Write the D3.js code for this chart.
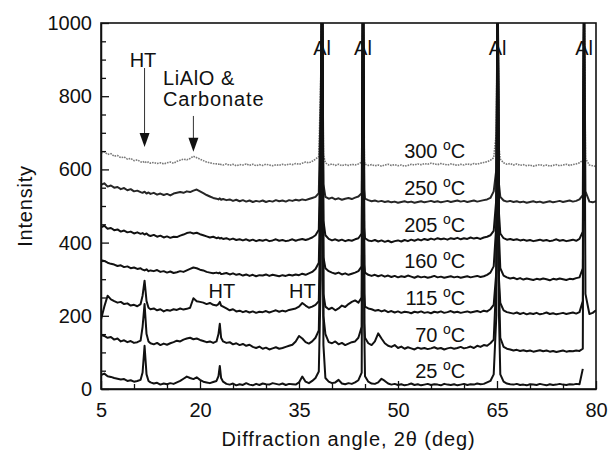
<!DOCTYPE html>
<html>
<head>
<meta charset="utf-8">
<script src="https://cdn.jsdelivr.net/npm/d3@7"></script>
<style>
  body { margin: 0; background: #fff; }
  text { font-family: "Liberation Sans", Arial, sans-serif; fill: #111; }
</style>
</head>
<body>
<div id="chart"></div>
<script>
// 2theta grid shared by every trace (denser around the peaks)
const angle = [
  5, 5.5, 6, 6.5, 7, 7.5, 8, 8.5, 9, 9.5, 10, 10.5, 11,
  11.3, 11.6, 11.9, 12.2,
  12.5, 13, 13.5, 14, 14.5, 15, 15.5, 16, 16.5, 17, 17.5, 18, 18.5, 19, 19.5, 20, 20.5, 21, 21.5, 22, 22.5,
  22.8, 23, 23.2,
  23.5, 24, 24.5, 25, 25.5, 26, 26.5, 27, 27.5, 28, 28.5, 29, 29.5, 30, 30.5, 31, 31.5, 32, 32.5, 33, 33.5, 34, 34.5, 35, 35.5, 36, 36.5, 37, 37.5, 38,
  38.3, 38.5, 38.7,
  39, 39.5, 40, 40.5, 41, 41.5, 42, 42.5, 43, 43.5, 44, 44.5,
  44.7, 44.9,
  45, 45.5, 46, 46.5, 47, 47.5, 48, 48.5, 49, 49.5, 50, 50.5, 51, 51.5, 52, 52.5, 53, 53.5, 54, 54.5,
  55, 55.5, 56, 56.5, 57, 57.5, 58, 58.5, 59, 59.5, 60, 60.5, 61, 61.5, 62, 62.5, 63, 63.5, 64, 64.5,
  64.9, 65.1, 65.3,
  65.5, 66, 66.5, 67, 67.5, 68, 68.5, 69, 69.5, 70, 70.5, 71, 71.5, 72, 72.5, 73, 73.5, 74, 74.5, 75, 75.5, 76, 76.5, 77, 77.5, 78,
  78.2, 78.4,
  79, 79.5, 80
];

// intensities (the stacked offsets are part of the values)
const t25 = [
  38, 42, 35, 33, 30, 28, 26, 27, 22, 24, 20, 22, 25,
  45, 118, 40, 22,
  18, 15, 17, 12, 15, 13, 16, 14, 18, 22, 28, 34, 30, 27, 32, 25, 20, 18, 16, 19, 22,
  35, 63, 30,
  20, 14, 12, 15, 10, 13, 11, 16, 12, 10, 14, 11, 15, 13, 12, 16, 14, 12, 15, 11, 14, 13, 12, 18, 34, 20, 16, 22, 30, 48,
  300, 1150, 120,
  30, 20, 16, 18, 25, 15, 13, 16, 14, 18, 24, 45,
  1150, 150,
  35, 20, 15, 14, 18, 28, 22, 15, 12, 14, 11, 13, 10, 12, 15, 11, 13, 10, 12, 14,
  11, 13, 12, 10, 14, 12, 11, 13, 10, 12, 14, 11, 13, 12, 15, 13, 14, 18, 22, 40,
  200, 1150, 200,
  40, 20, 15, 13, 12, 14, 11, 12, 10, 13, 12, 11, 14, 12, 10, 13, 11, 12, 14, 12, 11, 13, 12, 14, 13, 55,
  null, null,
  null, null, null
];
const t70 = [
  148, 145, 140, 142, 135, 138, 130, 133, 128, 131, 126, 128, 132,
  170, 232, 150, 130,
  125, 122, 126, 120, 124, 121, 125, 128, 132, 130, 135, 138, 140, 136, 138, 134, 131, 128, 130, 126, 130,
  150, 178, 140,
  130, 126, 128, 122, 125, 120, 123, 118, 121, 115, 112, 116, 110, 113, 108, 111, 114, 110, 112, 115, 118, 121, 130, 145, 138, 128, 124, 130, 140, 160,
  450, 1150, 200,
  150, 128, 125, 130, 122, 126, 120, 124, 128, 130, 140, 170,
  1150, 180,
  140, 125, 120, 130, 152, 138, 125, 118, 115, 120, 112, 116, 110, 114, 111, 108, 113, 110, 112, 109,
  111, 114, 110, 112, 108, 111, 113, 110, 112, 115, 111, 113, 116, 112, 118, 115, 120, 118, 125, 135,
  300, 1150, 280,
  140, 115, 110, 108, 105, 107, 104, 106, 103, 105, 102, 104, 106, 103, 105, 102, 104, 101, 103, 105, 102, 104, 103, 105, 104, 110,
  1150, null,
  null, null, null
];
const t115 = [
  190, 225, 255, 245, 240, 236, 238, 232, 234, 228, 230, 226, 232,
  255, 296, 240, 222,
  218, 220, 215, 218, 212, 216, 214, 218, 216, 220, 217, 219, 222, 248, 240, 238, 236, 232, 235, 230, 228,
  232, 238, 228,
  225, 220, 215, 218, 212, 214, 210, 213, 209, 212, 208, 211, 210, 213, 209, 212, 215, 211, 214, 212, 216, 218, 220, 225, 235, 228, 222, 225, 230, 240,
  500, 1150, 260,
  225, 218, 222, 215, 220, 228, 224, 232, 238, 242, 236, 250,
  1150, 260,
  225, 220, 218, 214, 216, 212, 215, 210, 213, 209, 212, 208, 211, 210, 207, 211, 209, 212, 208, 210,
  207, 211, 209, 212, 208, 210, 213, 209, 211, 208, 210, 212, 209, 211, 213, 210, 214, 212, 218, 230,
  320, 1150, 300,
  235, 215, 210, 208, 206, 209, 205, 208, 204, 207, 205, 208, 204, 206, 209, 205, 207, 204, 206, 208, 205, 207, 209, 206, 210, 240,
  1150, 260,
  205, 208, 215
];
const t160 = [
  352, 350, 345, 342, 340, 336, 338, 333, 335, 330, 332, 328, 330,
  326, 324, 327, 322,
  324, 322, 325, 320, 322, 318, 321, 317, 319, 322, 320, 324, 328, 332, 330, 326, 324, 320, 318, 316, 318,
  316, 318, 314,
  315, 317, 313, 316, 312, 314, 310, 313, 309, 312, 308, 311, 310, 313, 309, 312, 310, 308, 311, 309, 312, 310, 313, 311, 315, 312, 316, 320, 328, 345,
  600, 1150, 360,
  330, 322, 318, 315, 318, 313, 316, 312, 315, 318, 322, 335,
  1150, 340,
  318, 312, 309, 312, 308, 311, 307, 310, 306, 309, 305, 308, 306, 310, 307, 304, 308, 305, 307, 304,
  306, 309, 305, 307, 304, 306, 308, 305, 307, 304, 306, 308, 305, 307, 309, 306, 308, 312, 318, 335,
  450, 1150, 420,
  330, 310, 305, 302, 304, 300, 303, 299, 302, 300, 298, 301, 299, 302, 300, 297, 301, 299, 302, 300, 298, 301, 300, 303, 305, 330,
  1150, null,
  null, null, null
];
const t205 = [
  442, 446, 438, 440, 434, 436, 430, 433, 428, 430, 425, 428, 424,
  426, 422, 425, 420,
  418, 421, 416, 419, 414, 417, 413, 416, 415, 419, 422, 426, 428, 425, 427, 423, 420, 417, 414, 416, 412,
  414, 411, 413,
  410, 412, 408, 411, 407, 409, 406, 409, 405, 408, 404, 407, 405, 408, 404, 406, 409, 405, 407, 404, 406, 409, 405, 408, 410, 407, 410, 414, 420, 435,
  700, 1150, 460,
  420, 410, 406, 409, 405, 408, 404, 407, 405, 409, 412, 425,
  1150, 440,
  412, 406, 404, 407, 403, 406, 402, 405, 401, 404, 406, 403, 407, 404, 408, 405, 409, 406, 410, 407,
  411, 408, 412, 409, 411, 408, 412, 410, 413, 409, 412, 410, 414, 411, 413, 410, 414, 416, 420, 432,
  520, 1150, 480,
  425, 412, 408, 410, 407, 409, 406, 408, 405, 407, 404, 406, 408, 405, 407, 404, 406, 409, 405, 407, 404, 406, 408, 405, 410, 430,
  1150, null,
  null, null, null
];
const t250 = [
  558, 562, 553, 556, 550, 552, 546, 549, 543, 546, 540, 542, 538,
  536, 539, 534, 537,
  533, 536, 531, 534, 530, 533, 529, 534, 536, 538, 536, 540, 538, 542, 545, 540, 535, 530, 526, 522, 520,
  518, 521, 517,
  519, 516, 518, 514, 517, 513, 516, 512, 515, 511, 514, 512, 515, 511, 514, 512, 516, 513, 515, 512, 516, 514, 517, 515, 518, 516, 519, 522, 525, 535,
  800, 1150, 560,
  525, 520, 523, 518, 521, 517, 520, 522, 519, 523, 526, 535,
  1150, 545,
  520, 516, 513, 515, 512, 514, 511, 513, 510, 512, 509, 511, 513, 510, 512, 509, 511, 513, 510, 512,
  514, 511, 513, 510, 512, 514, 511, 513, 515, 512, 514, 511, 513, 515, 512, 514, 516, 518, 522, 540,
  600, 1150, 560,
  525, 515, 512, 514, 511, 513, 510, 512, 509, 511, 513, 510, 512, 509, 511, 513, 510, 512, 514, 511, 513, 515, 512, 514, 518, 530,
  1150, 540,
  512, 510, 513
];
const t300 = [
  645, 648, 641, 643, 636, 638, 632, 634, 628, 630, 624, 626, 621,
  619, 622, 618, 620,
  617, 619, 616, 618, 615, 618, 620, 617, 622, 625, 628, 626, 630, 636, 632, 628, 624, 620, 618, 616, 615,
  614, 616, 613,
  612, 615, 611, 614, 610, 613, 612, 615, 611, 614, 610, 613, 611, 614, 612, 610, 613, 611, 614, 612, 615, 613, 616, 614, 617, 620, 618, 622, 628, 635,
  850, 1150, 640,
  618, 612, 615, 611, 614, 610, 613, 611, 614, 612, 615, 620,
  1150, 625,
  614, 611, 613, 610, 612, 609, 612, 614, 611, 613, 610, 612, 609, 611, 614, 612, 615, 613, 616, 614,
  617, 615, 613, 616, 614, 612, 615, 613, 611, 614, 612, 615, 613, 616, 614, 617, 619, 621, 625, 632,
  700, 1150, 660,
  628, 618, 614, 616, 612, 615, 611, 613, 610, 612, 609, 611, 613, 610, 612, 609, 611, 613, 610, 612, 614, 611, 613, 615, 618, 625,
  1150, 630,
  612, 610, 608
];

const temps = ['300', '250', '205', '160', '115', '70', '25'];
const traces = [t300, t250, t205, t160, t115, t70, t25];
const tempLabelY = [631, 530, 429, 331, 230, 128, 30];   // intensity level of each label baseline
const xTicks = [5, 20, 35, 50, 65, 80];
const yTicks = [0, 200, 400, 600, 800, 1000];
const alPeaks = [38.5, 44.7, 65.1, 78.2];

const width = 610, height = 450;
const margin = { top: 23, right: 14, bottom: 61, left: 101 };

const svg = d3.select('#chart').append('svg')
  .attr('width', width)
  .attr('height', height);

const x = d3.scaleLinear().domain([5, 80]).range([margin.left, width - margin.right]);
const y = d3.scaleLinear().domain([0, 1000]).range([height - margin.bottom, margin.top]);

svg.append('clipPath').attr('id', 'plot')
  .append('rect')
  .attr('x', x(5)).attr('y', y(1000))
  .attr('width', x(80) - x(5)).attr('height', y(0) - y(1000));

// traces
const line = d3.line()
  .defined(d => d[1] != null)
  .x(d => x(d[0]))
  .y(d => y(d[1]));

const g = svg.append('g').attr('clip-path', 'url(#plot)');
traces.forEach((vals, i) => {
  const pts = angle.map((a, j) => [a, vals[j]]);
  const grey = temps[i] === '300';
  g.append('path')
    .datum(pts)
    .attr('fill', 'none')
    .attr('stroke', grey ? '#7a7a7a' : (temps[i] === '250' ? '#262626' : '#111'))
    .attr('stroke-width', grey ? 1.6 : 2)
    .attr('stroke-dasharray', grey ? '1.6,1' : null)
    .attr('stroke-linejoin', 'round')
    .attr('d', line);
});

// axes, ticks pointing inward
const bottom = svg.append('g').attr('transform', `translate(0,${y(0)})`);
bottom.call(d3.axisBottom(x).tickValues(d3.range(5, 81, 5)).tickFormat('').tickSizeInner(-5).tickSizeOuter(0));
bottom.call(g2 => g2.selectAll('.tick').filter(d => xTicks.includes(d)).select('line').attr('y2', -8));
svg.append('g').attr('transform', `translate(0,${y(0)})`)
  .call(d3.axisBottom(x).tickValues(xTicks).tickSize(0).tickPadding(14))
  .call(a => a.select('.domain').remove())
  .selectAll('text')
  .style('font-size', '20px')
  .style('font-family', '"Liberation Sans", Arial, sans-serif')
  .attr('fill', '#111');

const left = svg.append('g').attr('transform', `translate(${x(5)},0)`);
left.call(d3.axisLeft(y).tickValues(d3.range(0, 1001, 50)).tickFormat('').tickSizeInner(-5).tickSizeOuter(0));
left.call(g2 => g2.selectAll('.tick').filter(d => yTicks.includes(d)).select('line').attr('x2', 8));
svg.append('g').attr('transform', `translate(${x(5)},0)`)
  .call(d3.axisLeft(y).tickValues(yTicks).tickFormat(d3.format('d')).tickSize(0).tickPadding(9))
  .call(a => a.select('.domain').remove())
  .selectAll('text')
  .style('font-size', '20px')
  .style('font-family', '"Liberation Sans", Arial, sans-serif')
  .attr('fill', '#111');

svg.selectAll('.domain').attr('stroke', '#111').attr('stroke-width', 1.5);
svg.selectAll('.tick line').attr('stroke', '#111').attr('stroke-width', 1.3);

svg.append('rect')
  .attr('x', x(5)).attr('y', y(1000))
  .attr('width', x(80) - x(5)).attr('height', y(0) - y(1000))
  .attr('fill', 'none').attr('stroke', '#111').attr('stroke-width', 1.6);

// axis titles
svg.append('text')
  .attr('x', (x(5) + x(80)) / 2).attr('y', 446)
  .attr('text-anchor', 'middle')
  .style('font-size', '20px').style('letter-spacing', '0.9px')
  .text('Diffraction angle, 2θ (deg)');

svg.append('text')
  .attr('transform', `translate(32,${(y(0) + y(1000)) / 2}) rotate(-90)`)
  .attr('text-anchor', 'middle')
  .style('font-size', '20px').style('letter-spacing', '0.8px')
  .text('Intensity');

// temperature labels
temps.forEach((t, i) => {
  const lbl = svg.append('text')
    .attr('x', x(60.2)).attr('y', y(tempLabelY[i]))
    .attr('text-anchor', 'end')
    .style('font-size', '20px');
  lbl.append('tspan').text(t + ' ');
  lbl.append('tspan').attr('dy', -8).style('font-size', '14px').text('o');
  lbl.append('tspan').attr('dy', 8).text('C');
});

// Al peak labels
svg.selectAll('.al').data(alPeaks).enter().append('text')
  .attr('x', d => x(d)).attr('y', 55)
  .attr('text-anchor', 'middle')
  .style('font-size', '20px')
  .text('Al');

// HT labels near the small hydrotalcite peaks
[[23.3, 249], [35.5, 249]].forEach(([a, v]) => {
  svg.append('text')
    .attr('x', x(a)).attr('y', y(v))
    .attr('text-anchor', 'middle')
    .style('font-size', '20px')
    .text('HT');
});

// arrows
const arrows = [
  { at: 11.6, from: 877, to: 661 },
  { at: 19, from: 746, to: 648 }
];
arrows.forEach(a => {
  const ax = x(a.at), y1 = y(a.from), y2 = y(a.to);
  svg.append('line')
    .attr('x1', ax).attr('x2', ax).attr('y1', y1).attr('y2', y2 - 12)
    .attr('stroke', '#333').attr('stroke-width', 1);
  svg.append('path')
    .attr('d', `M${ax - 5},${y2 - 14}L${ax + 5},${y2 - 14}L${ax},${y2}Z`)
    .attr('fill', '#111');
});

svg.append('text').attr('x', 143).attr('y', 67).attr('text-anchor', 'middle')
  .style('font-size', '20px').text('HT');
svg.append('text').attr('x', 163).attr('y', 85)
  .style('font-size', '20px').style('letter-spacing', '0.6px').text('LiAlO &');
svg.append('text').attr('x', 163).attr('y', 106)
  .style('font-size', '20px').style('letter-spacing', '0.9px').text('Carbonate');
</script>
</body>
</html>
